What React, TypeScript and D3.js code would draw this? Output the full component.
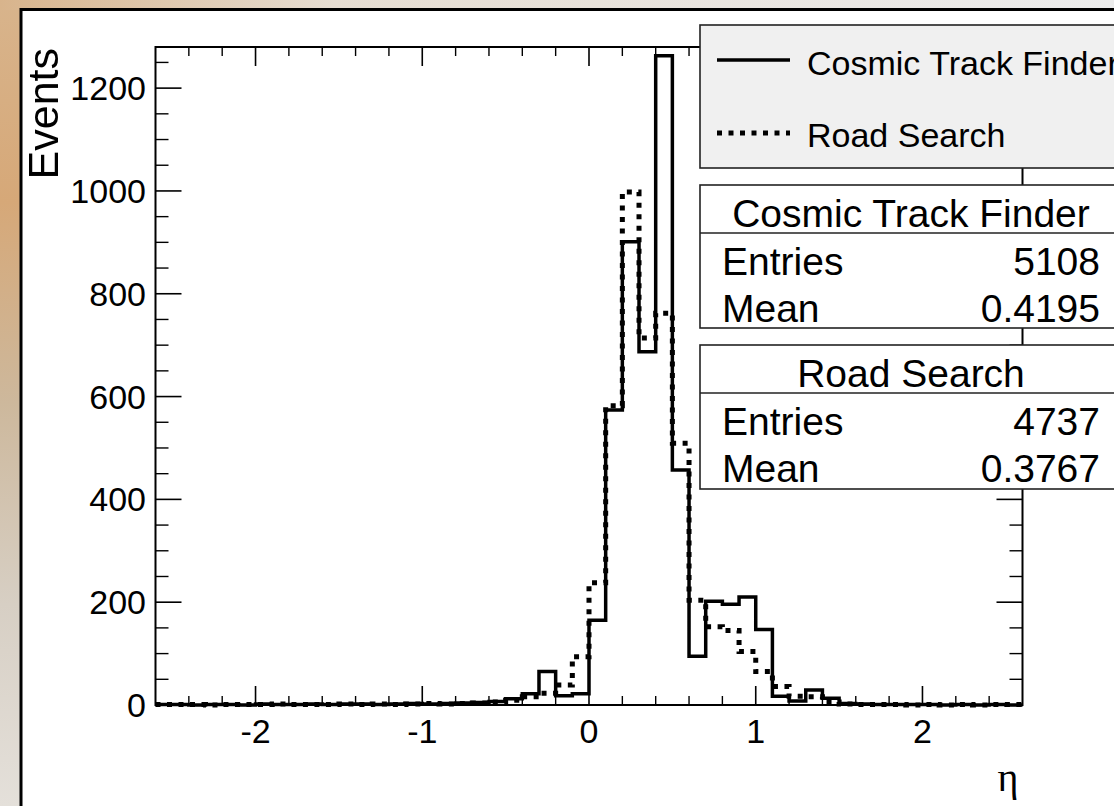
import React from "react";
import * as d3 from "d3";

const binLow = [
  -2.6, -2.5, -2.4, -2.3, -2.2, -2.1, -2.0, -1.9, -1.8, -1.7, -1.6, -1.5, -1.4,
  -1.3, -1.2, -1.1, -1.0, -0.9, -0.8, -0.7, -0.6, -0.5, -0.4, -0.3, -0.2, -0.1,
  0.0, 0.1, 0.2, 0.3, 0.4, 0.5, 0.6, 0.7, 0.8, 0.9, 1.0, 1.1, 1.2, 1.3, 1.4,
  1.5, 1.6, 1.7, 1.8, 1.9, 2.0, 2.1, 2.2, 2.3, 2.4, 2.5,
];
const binWidth = 0.1;

const cosmicTrackFinder = [
  1, 1, 0, 1, 1, 0, 2, 1, 1, 2, 1, 2, 2,
  1, 2, 3, 2, 3, 4, 5, 7, 12, 22, 65, 18, 22,
  165, 574, 901, 687, 1263, 457, 95, 202, 196, 210, 147, 17, 8, 29, 13,
  3, 2, 1, 1, 1, 1, 0, 1, 0, 1, 0,
];
const roadSearch = [
  1, 1, 1, 0, 1, 1, 1, 2, 1, 1, 1, 2, 1,
  2, 1, 2, 3, 2, 3, 4, 6, 9, 16, 23, 39, 94,
  238, 582, 998, 714, 762, 509, 204, 152, 145, 104, 65, 36, 17, 16, 6,
  2, 1, 1, 1, 0, 1, 0, 1, 0, 1, 1,
];

const seriesNames = ["Cosmic Track Finder", "Road Search"];
const statsEntries = ["5108", "4737"];
const statsMeans = ["0.4195", "0.3767"];

const xTicks = [-2, -1, 0, 1, 2];
const yTicks = [0, 200, 400, 600, 800, 1000, 1200];
const xDomain = [-2.6, 2.6];
const yDomain = [0, 1280];

const FONT = "'Liberation Sans', Arial, Helvetica, sans-serif";

export default function App() {
  const W = 1114;
  const H = 806;
  const fL = 155.5, fR = 1022.5, fT = 47, fB = 705;
  const x = d3.scaleLinear().domain(xDomain).range([fL, fR]);
  const y = d3.scaleLinear().domain(yDomain).range([fB, fT]);

  const stepLine = d3
    .line<[number, number]>()
    .x((d) => x(d[0]))
    .y((d) => y(d[1]))
    .curve(d3.curveStepAfter);

  const mkPts = (vals: number[]): [number, number][] => {
    const pts: [number, number][] = binLow.map((b, i) => [b, vals[i]]);
    pts.push([binLow[binLow.length - 1] + binWidth, vals[vals.length - 1]]);
    return pts;
  };

  const xMinor = d3.range(-24, 25, 2).map((v) => v / 10).filter((v) => !xTicks.includes(v));
  const yMinor = d3.range(0, 1281, 50).filter((v) => !yTicks.includes(v));

  const majX = 19, minX = 9, majY = 26, minY = 13;

  const boxL = 700, boxR = 1124;
  const leg = { t: 25, b: 168 };
  const st1 = { t: 185, sep: 233, b: 328 };
  const st2 = { t: 345, sep: 393, b: 489 };
  const midBox = 911;

  const statsBox = (st: { t: number; sep: number; b: number }, i: number) => (
    <g key={"st" + i}>
      <rect x={boxL} y={st.t} width={boxR - boxL} height={st.b - st.t} fill="#ffffff" stroke="#222" strokeWidth={1.6} />
      <line x1={boxL} x2={boxR} y1={st.sep} y2={st.sep} stroke="#222" strokeWidth={1.4} />
      <text x={midBox} y={st.t + 42} textAnchor="middle" fontSize={39}>{seriesNames[i]}</text>
      <text x={722} y={st.sep + 42} fontSize={39}>Entries</text>
      <text x={1100} y={st.sep + 42} textAnchor="end" fontSize={39}>{statsEntries[i]}</text>
      <text x={722} y={st.sep + 89} fontSize={39}>Mean</text>
      <text x={1100} y={st.sep + 89} textAnchor="end" fontSize={39}>{statsMeans[i]}</text>
    </g>
  );

  return (
    <div style={{ position: "fixed", left: 0, top: 0 }}>
      <svg width={W} height={H} style={{ display: "block" }} fontFamily={FONT}>
        <defs>
          <linearGradient id="bgv" x1="0" y1="0" x2="0" y2="1">
            <stop offset="0" stopColor="#d8b48c" />
            <stop offset="0.25" stopColor="#d6a878" />
            <stop offset="0.5" stopColor="#cdb89c" />
            <stop offset="0.75" stopColor="#d7cfc4" />
            <stop offset="1" stopColor="#e4e0da" />
          </linearGradient>
          <linearGradient id="bgh" x1="0" y1="0" x2="1" y2="0">
            <stop offset="0" stopColor="#d8b48c" />
            <stop offset="0.3" stopColor="#e6ddd2" />
            <stop offset="1" stopColor="#ececec" />
          </linearGradient>
        </defs>
        <rect x={0} y={0} width={W} height={H} fill="url(#bgv)" />
        <rect x={0} y={0} width={W} height={10} fill="url(#bgh)" />
        <rect x={21} y={9.5} width={W + 20} height={H + 20} fill="#ffffff" stroke="#000" strokeWidth={3} />

        <path d={stepLine(mkPts(cosmicTrackFinder)) || ""} fill="none" stroke="#000" strokeWidth={3.5} />
        <path d={stepLine(mkPts(roadSearch)) || ""} fill="none" stroke="#000" strokeWidth={5} strokeDasharray="5 6.5" />

        <rect x={fL} y={fT} width={fR - fL} height={fB - fT} fill="none" stroke="#000" strokeWidth={2} />

        {xTicks.map((t) => (
          <g key={"xt" + t}>
            <line x1={x(t)} x2={x(t)} y1={fB} y2={fB - majX} stroke="#000" strokeWidth={1.6} />
            <line x1={x(t)} x2={x(t)} y1={fT} y2={fT + majX} stroke="#000" strokeWidth={1.6} />
            <text x={x(t)} y={743} textAnchor="middle" fontSize={34}>{t}</text>
          </g>
        ))}
        {xMinor.map((t) => (
          <g key={"xm" + t}>
            <line x1={x(t)} x2={x(t)} y1={fB} y2={fB - minX} stroke="#000" strokeWidth={1.4} />
            <line x1={x(t)} x2={x(t)} y1={fT} y2={fT + minX} stroke="#000" strokeWidth={1.4} />
          </g>
        ))}

        {yTicks.map((t) => (
          <g key={"yt" + t}>
            <line x1={fL} x2={fL + majY} y1={y(t)} y2={y(t)} stroke="#000" strokeWidth={1.6} />
            <line x1={fR} x2={fR - majY} y1={y(t)} y2={y(t)} stroke="#000" strokeWidth={1.6} />
            <text x={146} y={y(t) + 12} textAnchor="end" fontSize={34}>{t}</text>
          </g>
        ))}
        {yMinor.map((t) => (
          <g key={"ym" + t}>
            <line x1={fL} x2={fL + minY} y1={y(t)} y2={y(t)} stroke="#000" strokeWidth={1.4} />
            <line x1={fR} x2={fR - minY} y1={y(t)} y2={y(t)} stroke="#000" strokeWidth={1.4} />
          </g>
        ))}

        <text transform="translate(58,48) rotate(-90)" textAnchor="end" fontSize={43}>Events</text>
        <text x={1008} y={791} textAnchor="middle" fontSize={40} fontFamily="'Liberation Serif', 'DejaVu Serif', serif">η</text>

        <rect x={boxL} y={leg.t} width={boxR - boxL} height={leg.b - leg.t} fill="#f0f0f0" stroke="#222" strokeWidth={1.6} />
        <line x1={717} x2={790} y1={60} y2={60} stroke="#000" strokeWidth={3.5} />
        <text x={807} y={75} fontSize={34}>{seriesNames[0]}</text>
        <line x1={717} x2={790} y1={133} y2={133} stroke="#000" strokeWidth={5} strokeDasharray="5 6.5" />
        <text x={807} y={147} fontSize={34}>{seriesNames[1]}</text>

        {statsBox(st1, 0)}
        {statsBox(st2, 1)}
      </svg>
    </div>
  );
}
